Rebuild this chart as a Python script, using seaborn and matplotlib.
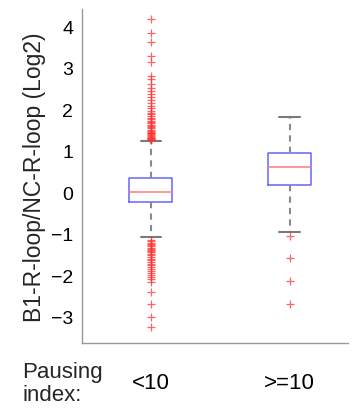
import matplotlib
matplotlib.use('Agg')
import matplotlib.pyplot as plt
import seaborn as sns
import pandas as pd

# Groups (pausing index)
groups = ['<10', '>=10']

# Box summary stats (log2 ratio)
medians = [0.00, 0.60]
q1 = [-0.24, 0.18]
q3 = [0.34, 0.95]
whis_lo = [-1.08, -0.95]
whis_hi = [1.24, 1.81]

# Outliers
fliers_low_idx = [4.18, 3.85, 3.62, 3.28, 3.15, 2.80, 2.72, 2.62, 2.52, 2.45,
                  2.38, 2.30, 2.22, 2.15, 2.08, 2.02, 1.97, 1.92, 1.88, 1.84,
                  1.80, 1.76, 1.72, 1.69, 1.66, 1.63, 1.60, 1.57, 1.54, 1.51,
                  1.48, 1.46, 1.44, 1.42, 1.40, 1.38, 1.36, 1.34, 1.32, 1.30,
                  1.29, 1.28, 1.27, 1.26,
                  -1.15, -1.18, -1.21, -1.24, -1.27, -1.30, -1.33, -1.36, -1.39,
                  -1.42, -1.45, -1.48, -1.52, -1.56, -1.60, -1.64, -1.68, -1.72,
                  -1.76, -1.80, -1.85, -1.90, -1.95, -2.00, -2.05, -2.10, -2.17,
                  -2.40, -2.69, -3.00, -3.24]
fliers_high_idx = [-1.06, -1.59, -2.14, -2.70]

sns.set_theme(style='white')
plt.rcParams['font.family'] = ['Liberation Sans', 'DejaVu Sans']

fig = plt.figure(figsize=(3.55, 4.10), dpi=100)
ax = fig.add_axes([0.230, 0.161, 0.750, 0.815])

flier_df = pd.DataFrame({
    'group': [groups[0]] * len(fliers_low_idx) + [groups[1]] * len(fliers_high_idx),
    'value': fliers_low_idx + fliers_high_idx,
})

sns.stripplot(data=flier_df, x='group', y='value', order=groups, jitter=False,
              marker='+', color='#ff3030', size=6, linewidth=0.9, alpha=0.75,
              ax=ax, zorder=3)

stats = []
for i, g in enumerate(groups):
    stats.append({'label': g, 'med': medians[i], 'q1': q1[i], 'q3': q3[i],
                  'whislo': whis_lo[i], 'whishi': whis_hi[i], 'fliers': []})

ax.bxp(stats, positions=[0, 1], widths=0.31, showfliers=False,
       boxprops=dict(color='#6464ff', linewidth=1.1),
       medianprops=dict(color='#ff7a7a', linewidth=1.1),
       whiskerprops=dict(color='#8a8a8a', linewidth=1.5, linestyle=(0, (3, 2.5))),
       capprops=dict(color='#7a7a7a', linewidth=1.5),
       capwidths=0.15, manage_ticks=False)

ax.set_xlim(-0.5, 1.42)
ax.set_ylim(-3.63, 4.42)
ax.set_yticks([-3, -2, -1, 0, 1, 2, 3, 4])
ax.set_xticks([0, 1])
ax.set_xticklabels(groups)
ax.set_xlabel('')
ax.set_ylabel('B1-R-loop/NC-R-loop (Log2)', fontsize=16.5)
ax.yaxis.set_label_coords(-0.135, 0.50)

for side in ['top', 'right']:
    ax.spines[side].set_visible(False)
for side in ['left', 'bottom']:
    ax.spines[side].set_color('#999999')
    ax.spines[side].set_linewidth(1.0)

ax.tick_params(axis='both', direction='in', length=3, width=0.8,
               color='#777777', labelcolor='black')
ax.tick_params(axis='y', pad=6, labelsize=14)
ax.tick_params(axis='x', pad=21, labelsize=16)

fig.text(0.062, 0.063, 'Pausing\nindex:', fontsize=16, ha='left', va='center',
         linespacing=1.15)

fig.savefig('out.png', dpi=100)
